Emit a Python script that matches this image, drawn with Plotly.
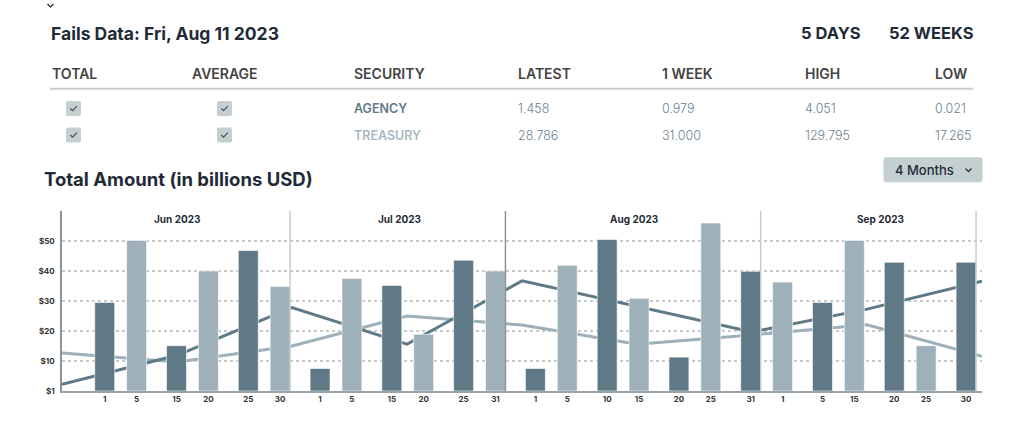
import plotly.graph_objects as go

# ---------------- data ----------------
months = ["Jun 2023", "Jul 2023", "Aug 2023", "Sep 2023"]
agency_days = ["1", "15", "25", "1", "15", "25", "1", "10", "20", "31", "5", "20", "30"]
agency_vals = [29.5, 15.1, 46.8, 7.5, 35.2, 43.6, 7.5, 50.5, 11.3, 39.9, 29.5, 42.9, 42.9]
treasury_days = ["5", "20", "30", "5", "20", "31", "5", "15", "25", "1", "15", "25"]
treasury_vals = [50.2, 40.0, 34.8, 37.5, 18.9, 40.0, 41.9, 30.9, 56.0, 36.3, 50.2, 15.1]
avg_periods = ["Jun 1", "Jun 15", "Jun 30", "Jul 15", "Jul 31", "Aug 15", "Aug 31", "Sep 15", "Sep 30"]
agency_avg = [2.2, 11.9, 27.8, 15.6, 36.7, 28.3, 19.7, 27.3, 36.6]
treasury_avg = [12.7, 9.7, 15.0, 25.0, 22.0, 15.6, 18.7, 22.1, 11.6]
y_tickvals = [0, 10, 20, 30, 40, 50]
y_ticktext = ["$1", "$10", "$20", "$30", "$40", "$50"]

columns = ["TOTAL", "AVERAGE", "SECURITY", "LATEST", "1 WEEK", "HIGH", "LOW"]
securities = ["AGENCY", "TREASURY"]
latest = ["1.458", "28.786"]
week1 = ["0.979", "31.000"]
high = ["4.051", "129.795"]
low = ["0.021", "17.265"]

DARK = "#5f7987"
LIGHT = "#9eb0ba"
TXT = "#1f2b37"
FONT = "Inter"

fig = go.Figure()

# average lines (main x axis, drawn beneath bars)
fig.add_trace(go.Scatter(x=avg_periods, y=treasury_avg, mode="lines",
                         line=dict(color=LIGHT, width=3), xaxis="x", yaxis="y",
                         showlegend=False, hoverinfo="skip"))
fig.add_trace(go.Scatter(x=avg_periods, y=agency_avg, mode="lines",
                         line=dict(color=DARK, width=3), xaxis="x", yaxis="y",
                         showlegend=False, hoverinfo="skip"))

# bars (overlaying x axis)
PAIR = 0.222
BW = 0.278
ag_x = list(range(len(agency_vals)))
tr_x = list(range(len(treasury_vals)))
fig.add_trace(go.Bar(x=ag_x, y=agency_vals, width=BW, offset=-PAIR - BW / 2,
                     marker=dict(color=DARK, line=dict(color="rgba(255,255,255,0.6)", width=1)),
                     xaxis="x2", yaxis="y", showlegend=False))
fig.add_trace(go.Bar(x=tr_x, y=treasury_vals, width=BW, offset=PAIR - BW / 2,
                     marker=dict(color=LIGHT, line=dict(color="rgba(255,255,255,0.6)", width=1)),
                     xaxis="x2", yaxis="y", showlegend=False))

tickvals = [i - PAIR for i in ag_x] + [i + PAIR for i in tr_x]
ticktext = agency_days + treasury_days

fig.update_layout(
    width=1024, height=427,
    margin=dict(l=62, r=42, t=211, b=36),
    paper_bgcolor="white", plot_bgcolor="white",
    barmode="overlay",
    xaxis=dict(type="category", range=[0, len(avg_periods) - 1], showticklabels=False,
               showgrid=False, zeroline=False, showline=False, fixedrange=True),
    xaxis2=dict(overlaying="x", anchor="y", side="bottom", range=[-0.817, 12.0],
                tickmode="array", tickvals=tickvals, ticktext=ticktext,
                tickfont=dict(family=FONT, size=8, color="#333", weight=700),
                ticks="", showgrid=False, zeroline=False,
                showline=True, linecolor="#9aa3a8", linewidth=1.5),
    yaxis=dict(range=[0, 60], tickmode="array", tickvals=y_tickvals, ticktext=y_ticktext,
               tickfont=dict(family=FONT, size=8, color="#333", weight=700),
               showgrid=True, gridcolor="#c9c9c9", gridwidth=1.5, griddash="dot",
               zeroline=False, showline=True, linecolor="#8a9399", linewidth=1.5,
               ticks="", ticklabelstandoff=4),
)

# month dividers (right edge of last bar of each month) and labels
last_bar = [2 + PAIR + BW / 2, 5 + PAIR + BW / 2, 9 - PAIR + BW / 2, 12 - PAIR + BW / 2]
div_colors = ["#c8ccd0", "#8a9399", "#c8ccd0", "#c8ccd0"]
for xv, c in zip(last_bar, div_colors):
    fig.add_shape(type="line", xref="x2", yref="paper", x0=xv, x1=xv, y0=0, y1=1,
                  line=dict(color=c, width=1.5))

def px(x):
    return (x - 62) / 920

def py(y):
    return (391 - y) / 180

month_px = [176.5, 399, 633.5, 880]
for m, xp in zip(months, month_px):
    fig.add_annotation(text=m, x=px(xp), y=py(219), xref="paper", yref="paper",
                       showarrow=False, xanchor="center", yanchor="middle",
                       font=dict(family=FONT, size=10, color=TXT, weight=700))

def ann(text, x, y, size, color, weight=400, xanchor="left"):
    fig.add_annotation(text=text, x=px(x), y=py(y), xref="paper", yref="paper",
                       showarrow=False, xanchor=xanchor, yanchor="middle",
                       font=dict(family=FONT, size=size, color=color, weight=weight))

def round_rect(x0, y0, x1, y1, r, fill):
    # pixel coords -> paper path with rounded corners
    pts = (f"M {px(x0 + r)} {py(y0)} L {px(x1 - r)} {py(y0)} "
           f"Q {px(x1)} {py(y0)} {px(x1)} {py(y0 + r)} L {px(x1)} {py(y1 - r)} "
           f"Q {px(x1)} {py(y1)} {px(x1 - r)} {py(y1)} L {px(x0 + r)} {py(y1)} "
           f"Q {px(x0)} {py(y1)} {px(x0)} {py(y1 - r)} L {px(x0)} {py(y0 + r)} "
           f"Q {px(x0)} {py(y0)} {px(x0 + r)} {py(y0)} Z")
    fig.add_shape(type="path", xref="paper", yref="paper", path=pts,
                  fillcolor=fill, line=dict(width=0))

# header
ann("Fails Data: Fri, Aug 11 2023", 49, 33, 17.5, TXT, 700)
ann("5 DAYS", 799, 33, 16.5, TXT, 700)
ann("52 WEEKS", 887, 33, 16.5, TXT, 700)
col_x = [50, 190, 352, 516, 660, 803, 933]
for c, xp in zip(columns, col_x):
    ann(c, xp, 73, 14, "#444", 600)
fig.add_shape(type="line", xref="paper", yref="paper", x0=px(50), x1=px(973),
              y0=py(88.7), y1=py(88.7), line=dict(color="#c5cacd", width=2))

row_y = [108.5, 135]
sec_colors = [DARK, "#a7b8c2"]
for i in range(2):
    for cx in [73.5, 224.5]:
        round_rect(cx - 7.5, row_y[i] - 7.5, cx + 7.5, row_y[i] + 7.5, 2, "#c3cfd1")
        # check mark
        fig.add_shape(type="path", xref="paper", yref="paper",
                      path=(f"M {px(cx - 3.2)} {py(row_y[i])} L {px(cx - 1)} {py(row_y[i] + 2.2)} "
                            f"L {px(cx + 3.4)} {py(row_y[i] - 2.4)}"),
                      line=dict(color="#4a4f55", width=1.2))
    ann(securities[i], 352, row_y[i], 12.5, sec_colors[i], 600)
    for vals, xp in zip([latest, week1, high, low], col_x[3:]):
        ann(vals[i], xp, row_y[i], 12.5, "#6a8290", 300)

# top chevron
fig.add_shape(type="path", xref="paper", yref="paper",
              path=f"M {px(47.5)} {py(4)} L {px(50.5)} {py(7)} L {px(53.5)} {py(4)}",
              line=dict(color="#333", width=1.3))

# chart title
ann("Total Amount (in billions USD)", 42, 179, 18.5, TXT, 700)

# 4 Months button
round_rect(883.5, 157.3, 982.5, 182.3, 3, "#c3cfd1")
ann("4 Months", 893, 170, 13, TXT, 500)
fig.add_shape(type="path", xref="paper", yref="paper",
              path=f"M {px(965.5)} {py(168.5)} L {px(968.5)} {py(171.5)} L {px(971.5)} {py(168.5)}",
              line=dict(color="#333", width=1.3))

fig.write_html("out.html")
